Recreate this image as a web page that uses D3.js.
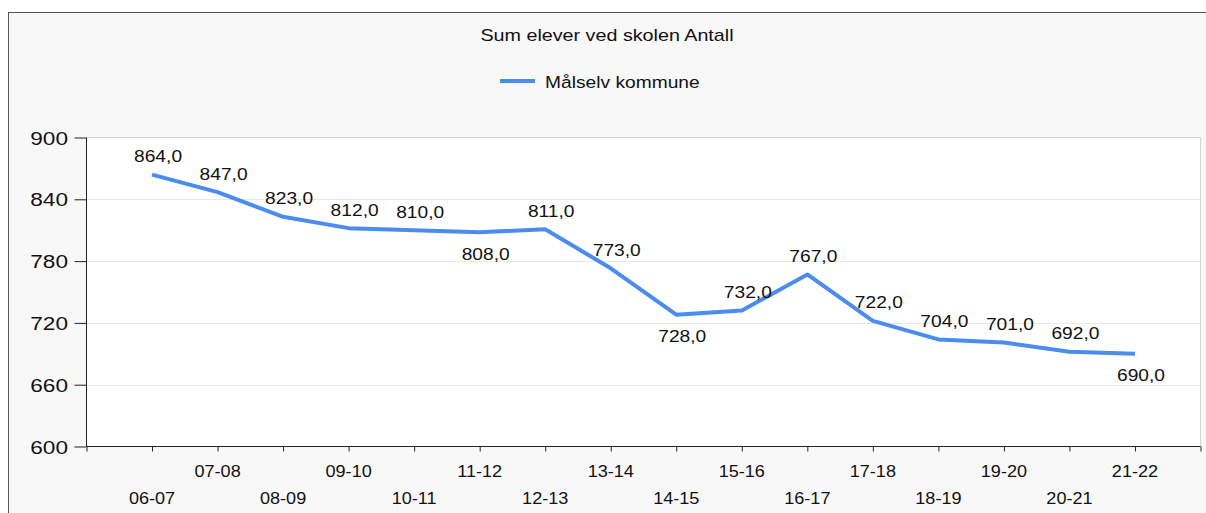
<!DOCTYPE html>
<html><head><meta charset="utf-8">
<script src="https://cdn.jsdelivr.net/npm/d3@7"></script>
<style>html,body{margin:0;padding:0;background:#fff;} svg{display:block;} text{font-family:Arial,"Liberation Sans",sans-serif;fill:#111;}</style>
</head><body>
<script>
const categories = ["06-07","07-08","08-09","09-10","10-11","11-12","12-13","13-14","14-15","15-16","16-17","17-18","18-19","19-20","20-21","21-22"];
const values = [864,847,823,812,810,808,811,773,728,732,767,722,704,701,692,690];
const yTicks = [600,660,720,780,840,900];
const seriesName = "Målselv kommune";
const title = "Sum elever ved skolen Antall";
const labelsBelow = [5,8,15];

(function(){
const W=1206,H=513, SX=1.13;
const svg=d3.select("body").append("svg").attr("width",W).attr("height",H);
svg.append("rect").attr("x",8.5).attr("y",12.5).attr("width",W).attr("height",H).attr("fill","#f8f8f8").attr("stroke","#555").attr("stroke-width",1);

const pL=86.5, pR=1200.5, pT=137.5, pB=446.5;
svg.append("rect").attr("x",pL).attr("y",pT).attr("width",pR-pL).attr("height",pB-pT).attr("fill","#fff").attr("stroke","#d4d4d4");

const x=d3.scaleLinear().domain([0,categories.length+1]).range([pL,pR]);
const y=d3.scaleLinear().domain([600,900]).range([pB,pT]);

function txt(g,s,px,py,size,anchor,sx){
  return g.append("text").attr("transform",`translate(${px},${py}) scale(${sx||SX},1)`)
    .attr("text-anchor",anchor||"middle").attr("font-size",size).text(s);
}

svg.append("g").selectAll("line").data(yTicks.filter(t=>t>600&&t<900)).join("line")
  .attr("x1",pL).attr("x2",pR).attr("y1",d=>Math.round(y(d))+0.5).attr("y2",d=>Math.round(y(d))+0.5)
  .attr("stroke","#e8e8e8");

const yAxis=svg.append("g").attr("transform",`translate(${pL},0)`)
  .call(d3.axisLeft(y).tickValues(yTicks).tickSize(12).tickFormat(""));
yAxis.select(".domain").attr("stroke","#222").attr("d",`M0,${pT}V${pB}`);
yAxis.selectAll(".tick line").attr("stroke","#222");
yTicks.forEach(t=>txt(svg,d3.format("d")(t),68,y(t)+7,19,"end",1.19));

const xt=d3.range(0,categories.length+2);
const xAxis=svg.append("g").attr("transform",`translate(0,${pB})`)
  .call(d3.axisBottom(x).tickValues(xt).tickSize(5).tickFormat(""));
xAxis.select(".domain").attr("stroke","#222").attr("d",`M${pL},0H${pR}`);
xAxis.selectAll(".tick line").attr("stroke","#222");
categories.forEach((c,i)=>{
  txt(svg,c,x(i+1),i%2===1?476.5:503.5,16,"middle");
});

const line=d3.line().x((d,i)=>x(i+1)).y(d=>y(d));
svg.append("path").datum(values).attr("d",line).attr("fill","none")
  .attr("stroke","#4a8cf0").attr("stroke-width",4).attr("stroke-linejoin","round").attr("stroke-linecap","butt");

const fmt=v=>d3.format(".1f")(v).replace(".",",");
values.forEach((v,i)=>{
  const below=labelsBelow.includes(i);
  txt(svg,fmt(v),x(i+1)+6,y(v)+(below?27.5:-12.5),17,"middle");
});

txt(svg,title,607,40.5,17,"middle",1.16);
svg.append("line").attr("x1",500).attr("x2",535).attr("y1",81).attr("y2",81).attr("stroke","#4a8cf0").attr("stroke-width",4);
txt(svg,seriesName,545,87.5,17,"start");
})();
</script>
</body></html>
